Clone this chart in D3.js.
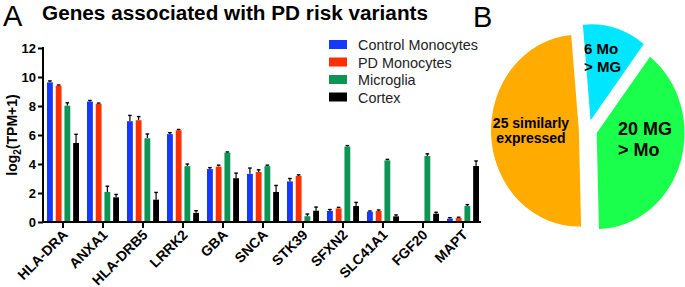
<!DOCTYPE html>
<html>
<head>
<meta charset="utf-8">
<script src="https://cdn.jsdelivr.net/npm/d3@7"></script>
<style>
  body { margin: 0; background: #fff; }
  svg { display: block; font-family: Arial, "Liberation Sans", sans-serif; }
</style>
</head>
<body>
<div id="chart"></div>
<script>
// data
const genes = ["HLA-DRA", "ANXA1", "HLA-DRB5", "LRRK2", "GBA", "SNCA", "STK39", "SFXN2", "SLC41A1", "FGF20", "MAPT"];
const seriesNames = ["Control Monocytes", "PD Monocytes", "Microglia", "Cortex"];
const seriesColors = ["#1438ff", "#ff3000", "#0b9655", "#000000"];

const controlMono = [9.63, 8.3, 6.95, 6.06, 3.65, 3.32, 2.8, 0.76, 0.71, 0, 0.23];
const pdMono      = [9.4, 8.15, 7.02, 6.33, 3.82, 3.45, 3.18, 0.94, 0.76, 0, 0.28];
const microglia   = [8.02, 2.07, 5.77, 3.85, 4.78, 3.85, 0.4, 5.2, 4.25, 4.55, 1.1];
const cortex      = [5.45, 1.7, 1.54, 0.63, 3.02, 2.07, 0.78, 1.1, 0.39, 0.57, 3.86];

const controlErr = [0.1, 0.08, 0.4, 0.1, 0.1, 0.4, 0.2, 0.1, 0.05, 0, 0.07];
const pdErr      = [0.05, 0.05, 0.25, 0.05, 0.1, 0.15, 0.07, 0.07, 0.07, 0, 0.05];
const microErr   = [0.2, 0.4, 0.3, 0.15, 0.05, 0.07, 0.15, 0.07, 0.07, 0.15, 0.1];
const cortexErr  = [0.6, 0.2, 0.5, 0.15, 0.35, 0.45, 0.25, 0.25, 0.1, 0.1, 0.35];

const yTicks = [0, 2, 4, 6, 8, 10, 12];

const pieLabels = ["6 Mo > MG", "20 MG > Mo", "25 similarly expressed"];
const pieValues = [6, 20, 25];
const pieColors = ["#00e6ff", "#1aff4b", "#ffab00"];

const values = [controlMono, pdMono, microglia, cortex];
const errors = [controlErr, pdErr, microErr, cortexErr];

const W = 685, H = 287;
const svg = d3.select("#chart").append("svg")
    .attr("width", W)
    .attr("height", H);

// panel letters
svg.append("text").attr("x", 3).attr("y", 26)
    .style("font-size", "29px").text("A");
svg.append("text").attr("x", 473).attr("y", 27)
    .style("font-size", "29px").text("B");

svg.append("text")
    .attr("x", 42).attr("y", 20)
    .style("font-size", "20px")
    .style("font-weight", "bold")
    .attr("textLength", 386)
    .attr("lengthAdjust", "spacingAndGlyphs")
    .text("Genes associated with PD risk variants");

// ---- bar chart
const x0 = d3.scaleBand().domain(genes).range([43, 483]);
const x1 = d3.scaleBand().domain(seriesNames).range([4, 36]).paddingInner(0.33);
const y = d3.scaleLinear().domain([0, 12]).range([222, 48]);

const table = genes.map((g, i) => ({
    gene: g,
    bars: seriesNames.map((s, j) => ({ series: s, color: seriesColors[j], value: values[j][i], err: errors[j][i] }))
}));

const groups = svg.selectAll(".group")
    .data(table)
    .enter().append("g")
    .attr("class", "group")
    .attr("transform", d => `translate(${x0(d.gene)},0)`);

const barItems = groups.selectAll(".bar-item")
    .data(d => d.bars.filter(b => b.value > 0))
    .enter().append("g")
    .attr("class", "bar-item");

// error bars (upper only)
barItems.append("line")
    .attr("x1", d => x1(d.series) + x1.bandwidth() / 2)
    .attr("x2", d => x1(d.series) + x1.bandwidth() / 2)
    .attr("y1", d => y(d.value))
    .attr("y2", d => y(d.value + d.err))
    .attr("stroke", "#000").attr("stroke-width", 1.2);
barItems.append("line")
    .attr("x1", d => x1(d.series) + x1.bandwidth() / 2 - 1.8)
    .attr("x2", d => x1(d.series) + x1.bandwidth() / 2 + 1.8)
    .attr("y1", d => y(d.value + d.err))
    .attr("y2", d => y(d.value + d.err))
    .attr("stroke", "#000").attr("stroke-width", 1.4);

barItems.append("rect")
    .attr("x", d => x1(d.series))
    .attr("width", x1.bandwidth())
    .attr("y", d => y(d.value))
    .attr("height", d => y(0) - y(d.value))
    .attr("fill", d => d.color);

// axes
const yAxis = d3.axisLeft(y).tickValues(yTicks).tickSize(5).tickPadding(2);
const yG = svg.append("g").attr("transform", "translate(43,0)").call(yAxis);
yG.select(".domain").attr("stroke-width", 2).attr("d", "M0,47V223");
yG.selectAll(".tick line").attr("stroke-width", 2);
yG.selectAll("text").style("font-size", "13px").style("font-weight", "bold").attr("fill", "#000");

const xAxis = d3.axisBottom(x0).tickSize(6).tickSizeOuter(0);
const xG = svg.append("g").attr("transform", "translate(0,222)").call(xAxis);
xG.select(".domain").attr("stroke-width", 2).attr("d", "M42,0H481");
xG.selectAll(".tick line").attr("stroke-width", 2);
xG.selectAll("text")
    .style("font-size", "14px")
    .style("font-weight", "bold")
    .attr("fill", "#000")
    .attr("text-anchor", "end")
    .attr("dy", null)
    .attr("transform", "translate(3,11) rotate(-45)")
    .attr("y", 0).attr("x", 0)
    .attr("dominant-baseline", "middle");

svg.append("text")
    .attr("transform", "translate(17,135) rotate(-90)")
    .attr("text-anchor", "middle")
    .style("font-size", "14px")
    .style("font-weight", "bold")
    .html('log<tspan dy="4" font-size="10px">2</tspan><tspan dy="-4">(TPM+1)</tspan>');

// legend
const legend = svg.selectAll(".legend")
    .data(seriesNames)
    .enter().append("g")
    .attr("class", "legend")
    .attr("transform", (d, i) => `translate(329,${40 + i * 17.5})`);
legend.append("rect").attr("width", 18).attr("height", 9)
    .attr("fill", (d, i) => seriesColors[i]);
legend.append("text").attr("x", 29).attr("y", 10)
    .style("font-size", "14.4px").attr("fill", "#222")
    .text(d => d);

// ---- pie
const cx = 588, cy = 130, R = 96, offset = 10;
const pie = d3.pie().sort(null)
    .startAngle(-5 * Math.PI / 180)
    .endAngle(355 * Math.PI / 180);
const arc = d3.arc().innerRadius(0).outerRadius(R);
const arcs = pie(pieValues);

const pieG = svg.append("g")
    .attr("transform", `translate(${cx},${cy}) scale(0.915,1)`);
pieG.selectAll("path")
    .data(arcs)
    .enter().append("path")
    .attr("fill", (d, i) => pieColors[i])
    .attr("transform", d => {
        const a = (d.startAngle + d.endAngle) / 2;
        return `translate(${Math.sin(a) * offset},${-Math.cos(a) * offset})`;
    })
    .attr("d", arc);

// pie labels
const pieText = [
    { lines: ["6 Mo", "> MG"], x: 584, y: 54, size: 15, anchor: "start", lh: 18 },
    { lines: ["20 MG", "> Mo"], x: 618, y: 135, size: 18, anchor: "start", lh: 21 },
    { lines: ["25 similarly", "expressed"], x: 531, y: 128, size: 14, anchor: "middle", lh: 15 }
];
pieText.forEach((p, i) => {
    const t = svg.append("text")
        .attr("x", p.x).attr("y", p.y)
        .attr("text-anchor", p.anchor)
        .style("font-size", p.size + "px")
        .style("font-weight", "bold")
        .attr("fill", "#000")
        .attr("data-label", pieLabels[i]);
    p.lines.forEach((l, k) => {
        t.append("tspan").attr("x", p.x).attr("dy", k === 0 ? 0 : p.lh).text(l);
    });
});
</script>
</body>
</html>
